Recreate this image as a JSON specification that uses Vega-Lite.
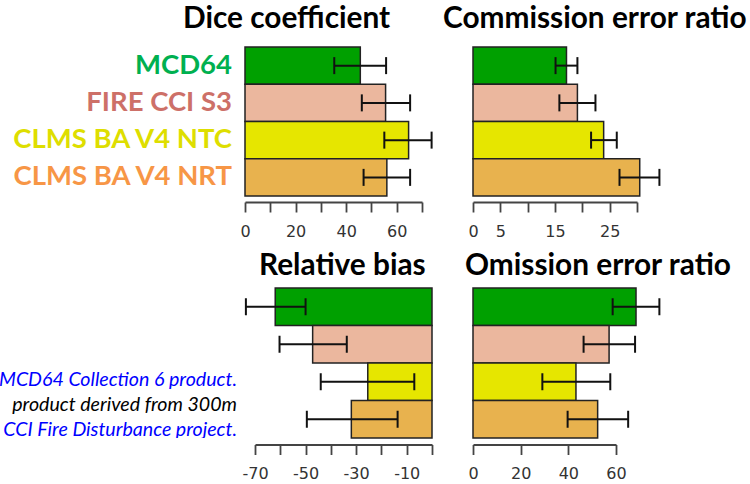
{
  "$schema": "https://vega.github.io/schema/vega-lite/v6.json",
  "padding": {"left": 0, "top": 4, "right": 0, "bottom": 0},
  "background": "white",
  "config": {
    "view": {"stroke": null},
    "font": "Lato",
    "title": {"font": "Lato", "fontSize": 29.8, "fontWeight": "bold", "color": "#000", "anchor": "start", "frame": "group"},
    "axis": {"grid": false, "title": null, "domainColor": "#444", "tickColor": "#444", "labelColor": "#333", "domainWidth": 1.8, "ticks": true, "tickWidth": 1.8, "tickSize": 10, "labelFont": "DejaVu Sans", "labelFontSize": 16, "labelPadding": 11, "labelOverlap": false, "labelBound": false, "labelFlush": false}
  },
  "data": {"values": [
    {"metric": "Dice coefficient", "model": "MCD64", "value": 45.6, "lo": 35.3, "hi": 55.8},
    {"metric": "Dice coefficient", "model": "FIRE CCI S3", "value": 55.6, "lo": 46.2, "hi": 65.3},
    {"metric": "Dice coefficient", "model": "CLMS BA V4 NTC", "value": 64.7, "lo": 55.1, "hi": 73.8},
    {"metric": "Dice coefficient", "model": "CLMS BA V4 NRT", "value": 56.1, "lo": 46.9, "hi": 65.3},
    {"metric": "Commission error ratio", "model": "MCD64", "value": 17.1, "lo": 15.1, "hi": 19.1},
    {"metric": "Commission error ratio", "model": "FIRE CCI S3", "value": 19.1, "lo": 15.8, "hi": 22.4},
    {"metric": "Commission error ratio", "model": "CLMS BA V4 NTC", "value": 23.9, "lo": 21.6, "hi": 26.3},
    {"metric": "Commission error ratio", "model": "CLMS BA V4 NRT", "value": 30.5, "lo": 26.8, "hi": 34.1},
    {"metric": "Relative bias", "model": "MCD64", "value": -62.0, "lo": -73.6, "hi": -50.0},
    {"metric": "Relative bias", "model": "FIRE CCI S3", "value": -47.2, "lo": -60.3, "hi": -33.7},
    {"metric": "Relative bias", "model": "CLMS BA V4 NTC", "value": -25.4, "lo": -44.0, "hi": -7.0},
    {"metric": "Relative bias", "model": "CLMS BA V4 NRT", "value": -31.9, "lo": -49.5, "hi": -13.6},
    {"metric": "Omission error ratio", "model": "MCD64", "value": 68.4, "lo": 58.6, "hi": 78.2},
    {"metric": "Omission error ratio", "model": "FIRE CCI S3", "value": 57.1, "lo": 46.4, "hi": 68.0},
    {"metric": "Omission error ratio", "model": "CLMS BA V4 NTC", "value": 43.2, "lo": 29.1, "hi": 57.6},
    {"metric": "Omission error ratio", "model": "CLMS BA V4 NRT", "value": 52.3, "lo": 39.7, "hi": 65.1}
  ]},
  "spacing": 12,
  "vconcat": [
    {
      "bounds": "flush",
      "spacing": 13,
      "hconcat": [
        {
          "width": 232, "height": 149,
          "transform": [{"filter": "datum.metric === 'Dice coefficient'"}],
          "mark": {"type": "text", "align": "right", "baseline": "alphabetic", "dy": 8, "font": "Lato", "fontWeight": "bold", "fontSize": 27.5},
          "encoding": {
            "y": {"field": "model", "type": "nominal", "sort": ["MCD64", "FIRE CCI S3", "CLMS BA V4 NTC", "CLMS BA V4 NRT"], "axis": null, "scale": {"paddingInner": 0, "paddingOuter": 0}},
            "x": {"datum": 1, "type": "quantitative", "scale": {"domain": [0, 1]}, "axis": null},
            "text": {"field": "model"},
            "color": {"condition": [
              {"test": "datum.model === 'MCD64'", "value": "#00b050"},
              {"test": "datum.model === 'FIRE CCI S3'", "value": "#cd7068"},
              {"test": "datum.model === 'CLMS BA V4 NTC'", "value": "#dede00"}
            ], "value": "#f79646"}
          }
        },
        {
          "width": 177, "height": 149,
          "title": {"text": "Dice coefficient", "dx": -62, "offset": 12},
          "transform": [{"filter": "datum.metric === 'Dice coefficient'"}],
          "encoding": {"y": {"field": "model", "type": "nominal", "sort": ["MCD64", "FIRE CCI S3", "CLMS BA V4 NTC", "CLMS BA V4 NRT"], "axis": null, "scale": {"paddingInner": 0, "paddingOuter": 0}}},
          "layer": [
            {"mark": {"type": "bar", "stroke": "#222", "strokeWidth": 1.5},
             "encoding": {
               "x": {"field": "value", "type": "quantitative", "scale": {"domain": [0, 70]}, "axis": {"values": [0, 10, 20, 30, 40, 50, 60, 70], "labelExpr": "datum.value % 20 === 0 ? toString(datum.value) : ''", "offset": 6}},
               "color": {"field": "model", "type": "nominal", "scale": {"domain": ["MCD64", "FIRE CCI S3", "CLMS BA V4 NTC", "CLMS BA V4 NRT"], "range": ["#00a000", "#ebb79e", "#e6e600", "#e8b24e"]}, "legend": null}
             }},
            {"mark": {"type": "rule", "color": "#111", "strokeWidth": 2}, "encoding": {"x": {"field": "lo", "type": "quantitative", "title": null, "axis": {"values": [0, 10, 20, 30, 40, 50, 60, 70], "labelExpr": "datum.value % 20 === 0 ? toString(datum.value) : ''", "offset": 6}}, "x2": {"field": "hi"}}},
            {"mark": {"type": "tick", "color": "#111", "thickness": 2, "size": 17, "opacity": 1}, "encoding": {"x": {"field": "lo", "type": "quantitative", "title": null, "axis": {"values": [0, 10, 20, 30, 40, 50, 60, 70], "labelExpr": "datum.value % 20 === 0 ? toString(datum.value) : ''", "offset": 6}}}},
            {"mark": {"type": "tick", "color": "#111", "thickness": 2, "size": 17, "opacity": 1}, "encoding": {"x": {"field": "hi", "type": "quantitative", "title": null, "axis": {"values": [0, 10, 20, 30, 40, 50, 60, 70], "labelExpr": "datum.value % 20 === 0 ? toString(datum.value) : ''", "offset": 6}}}}
          ]
        },
        {
          "width": 25, "height": 149,
          "data": {"values": []},
          "mark": "text",
          "encoding": {}
        },
        {
          "width": 164, "height": 149,
          "title": {"text": "Commission error ratio", "dx": -30, "offset": 12},
          "transform": [{"filter": "datum.metric === 'Commission error ratio'"}],
          "encoding": {"y": {"field": "model", "type": "nominal", "sort": ["MCD64", "FIRE CCI S3", "CLMS BA V4 NTC", "CLMS BA V4 NRT"], "axis": null, "scale": {"paddingInner": 0, "paddingOuter": 0}}},
          "layer": [
            {"mark": {"type": "bar", "stroke": "#222", "strokeWidth": 1.5},
             "encoding": {
               "x": {"field": "value", "type": "quantitative", "scale": {"domain": [0, 30]}, "axis": {"values": [0, 5, 10, 15, 20, 25, 30], "labelExpr": "(datum.value === 0 || datum.value === 5 || datum.value === 15 || datum.value === 25) ? toString(datum.value) : ''", "offset": 6}},
               "color": {"field": "model", "type": "nominal", "legend": null}
             }},
            {"mark": {"type": "rule", "color": "#111", "strokeWidth": 2}, "encoding": {"x": {"field": "lo", "type": "quantitative", "title": null, "axis": {"values": [0, 5, 10, 15, 20, 25, 30], "labelExpr": "(datum.value === 0 || datum.value === 5 || datum.value === 15 || datum.value === 25) ? toString(datum.value) : ''", "offset": 6}}, "x2": {"field": "hi"}}},
            {"mark": {"type": "tick", "color": "#111", "thickness": 2, "size": 17, "opacity": 1}, "encoding": {"x": {"field": "lo", "type": "quantitative", "title": null, "axis": {"values": [0, 5, 10, 15, 20, 25, 30], "labelExpr": "(datum.value === 0 || datum.value === 5 || datum.value === 15 || datum.value === 25) ? toString(datum.value) : ''", "offset": 6}}}},
            {"mark": {"type": "tick", "color": "#111", "thickness": 2, "size": 17, "opacity": 1}, "encoding": {"x": {"field": "hi", "type": "quantitative", "title": null, "axis": {"values": [0, 5, 10, 15, 20, 25, 30], "labelExpr": "(datum.value === 0 || datum.value === 5 || datum.value === 15 || datum.value === 25) ? toString(datum.value) : ''", "offset": 6}}}}
          ]
        }
      ]
    },
    {
      "bounds": "flush",
      "spacing": 18,
      "hconcat": [
        {
          "width": 237, "height": 150,
          "data": {"values": [
            {"line": 1, "text": "MCD64 Collection 6 product.", "link": true},
            {"line": 2, "text": "product derived from 300m", "link": false},
            {"line": 3, "text": "CCI Fire Disturbance project.", "link": true}
          ]},
          "mark": {"type": "text", "align": "right", "baseline": "alphabetic", "dy": 10, "font": "Lato", "fontStyle": "italic", "fontSize": 19.6, "clip": true},
          "encoding": {
            "y": {"field": "line", "type": "ordinal", "scale": {"domain": [-2, -1, 0, 1, 2, 3], "paddingInner": 0, "paddingOuter": 0}, "axis": null},
            "x": {"datum": 1, "type": "quantitative", "scale": {"domain": [0, 1]}, "axis": null},
            "text": {"field": "text"},
            "color": {"condition": {"test": "datum.link", "value": "#0000ff"}, "value": "#000000"}
          }
        },
        {
          "width": 177, "height": 150,
          "title": {"text": "Relative bias", "dx": 4, "offset": 6},
          "transform": [{"filter": "datum.metric === 'Relative bias'"}],
          "encoding": {"y": {"field": "model", "type": "nominal", "sort": ["MCD64", "FIRE CCI S3", "CLMS BA V4 NTC", "CLMS BA V4 NRT"], "axis": null, "scale": {"paddingInner": 0, "paddingOuter": 0}}},
          "layer": [
            {"mark": {"type": "bar", "stroke": "#222", "strokeWidth": 1.5},
             "encoding": {
               "x": {"field": "value", "type": "quantitative", "scale": {"domain": [-70, 0]}, "axis": {"values": [-70, -60, -50, -40, -30, -20, -10, 0], "labelExpr": "datum.value % 20 !== 0 ? toString(datum.value) : ''", "offset": 6.5}},
               "color": {"field": "model", "type": "nominal", "legend": null}
             }},
            {"mark": {"type": "rule", "color": "#111", "strokeWidth": 2}, "encoding": {"x": {"field": "lo", "type": "quantitative", "title": null, "axis": {"values": [-70, -60, -50, -40, -30, -20, -10, 0], "labelExpr": "datum.value % 20 !== 0 ? toString(datum.value) : ''", "offset": 6.5}}, "x2": {"field": "hi"}}},
            {"mark": {"type": "tick", "color": "#111", "thickness": 2, "size": 17, "opacity": 1}, "encoding": {"x": {"field": "lo", "type": "quantitative", "title": null, "axis": {"values": [-70, -60, -50, -40, -30, -20, -10, 0], "labelExpr": "datum.value % 20 !== 0 ? toString(datum.value) : ''", "offset": 6.5}}}},
            {"mark": {"type": "tick", "color": "#111", "thickness": 2, "size": 17, "opacity": 1}, "encoding": {"x": {"field": "hi", "type": "quantitative", "title": null, "axis": {"values": [-70, -60, -50, -40, -30, -20, -10, 0], "labelExpr": "datum.value % 20 !== 0 ? toString(datum.value) : ''", "offset": 6.5}}}}
          ]
        },
        {
          "width": 5, "height": 150,
          "data": {"values": []},
          "mark": "text",
          "encoding": {}
        },
        {
          "width": 143, "height": 150,
          "title": {"text": "Omission error ratio", "dx": -8, "offset": 6},
          "transform": [{"filter": "datum.metric === 'Omission error ratio'"}],
          "encoding": {"y": {"field": "model", "type": "nominal", "sort": ["MCD64", "FIRE CCI S3", "CLMS BA V4 NTC", "CLMS BA V4 NRT"], "axis": null, "scale": {"paddingInner": 0, "paddingOuter": 0}}},
          "layer": [
            {"mark": {"type": "bar", "stroke": "#222", "strokeWidth": 1.5},
             "encoding": {
               "x": {"field": "value", "type": "quantitative", "scale": {"domain": [0, 60]}, "axis": {"values": [0, 20, 40, 60], "labelExpr": "toString(datum.value)", "offset": 6.5}},
               "color": {"field": "model", "type": "nominal", "legend": null}
             }},
            {"mark": {"type": "rule", "color": "#111", "strokeWidth": 2}, "encoding": {"x": {"field": "lo", "type": "quantitative", "title": null, "axis": {"values": [0, 20, 40, 60], "labelExpr": "toString(datum.value)", "offset": 6.5}}, "x2": {"field": "hi"}}},
            {"mark": {"type": "tick", "color": "#111", "thickness": 2, "size": 17, "opacity": 1}, "encoding": {"x": {"field": "lo", "type": "quantitative", "title": null, "axis": {"values": [0, 20, 40, 60], "labelExpr": "toString(datum.value)", "offset": 6.5}}}},
            {"mark": {"type": "tick", "color": "#111", "thickness": 2, "size": 17, "opacity": 1}, "encoding": {"x": {"field": "hi", "type": "quantitative", "title": null, "axis": {"values": [0, 20, 40, 60], "labelExpr": "toString(datum.value)", "offset": 6.5}}}}
          ]
        }
      ]
    }
  ]
}
